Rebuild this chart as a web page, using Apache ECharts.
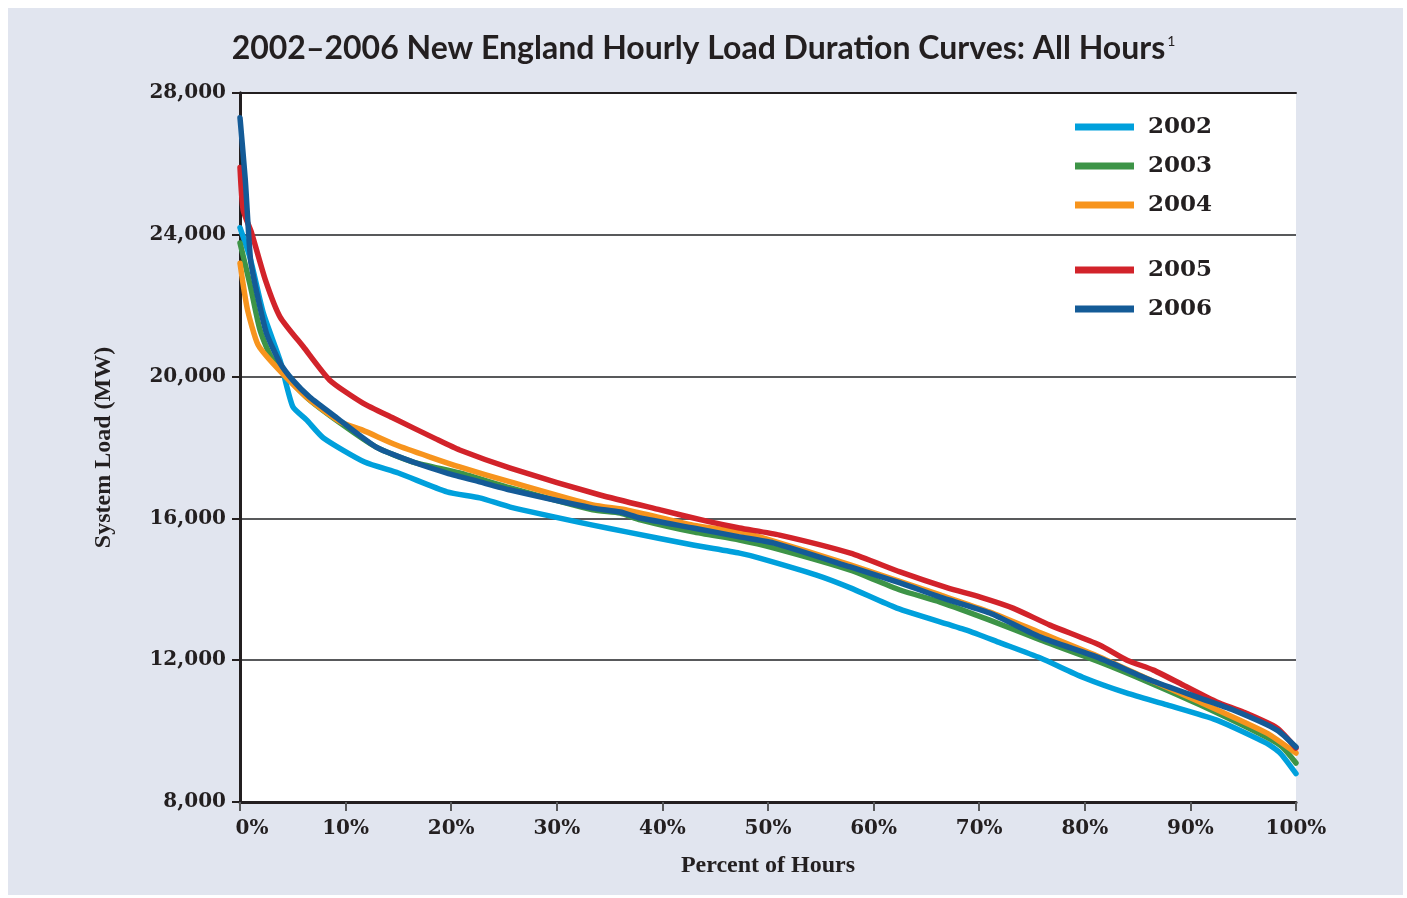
<!DOCTYPE html>
<html>
<head>
<meta charset="utf-8">
<script src="https://cdn.jsdelivr.net/npm/echarts@6/dist/echarts.min.js"></script>
<style>
  html, body { margin: 0; padding: 0; background: #fff; }
  #panel { position: absolute; left: 8px; top: 8px; width: 1395px; height: 887px; background: #e1e5ef; }
  #main { position: absolute; left: 0; top: 0; width: 1407px; height: 898px; }
</style>
</head>
<body>
<div id="panel"></div>
<div id="main"></div>
<script>
  // percent of hours (x) and system load in MW (y)
  var pct2002 = [0, 1, 2.2, 3.8, 5, 6.3, 7.9, 11.8, 15, 19.6, 22.7, 25.6, 33.4, 36.6, 42.9, 47.3, 49.2, 54.6, 57.8, 62.2, 68.8, 72, 75.8, 79.8, 84, 87.8, 92.5, 97.2, 98.5, 100];
  var load2002 = [24200, 23300, 21800, 20450, 19150, 18780, 18270, 17590, 17280, 16750, 16580, 16320, 15810, 15620, 15250, 15020, 14880, 14400, 14040, 13470, 12850, 12490, 12060, 11520, 11070, 10740, 10310, 9660, 9380, 8800];

  var pct2003 = [0, 1, 1.9, 3.1, 6.3, 9.5, 12.9, 16.4, 20.8, 25.6, 33.4, 36, 37.9, 42.9, 47.3, 50.5, 57.8, 62.5, 66.3, 71, 75.8, 81.4, 86.2, 90.9, 97.2, 98.7, 100];
  var load2003 = [23770, 22530, 21310, 20470, 19420, 18690, 18010, 17590, 17280, 16860, 16240, 16150, 15960, 15620, 15390, 15170, 14540, 13980, 13640, 13130, 12570, 11950, 11360, 10740, 9830, 9550, 9100];

  var pct2004 = [0, 0.7, 1.7, 3.1, 6.3, 9.5, 11.6, 14.8, 18, 20.8, 25.6, 33.4, 36.6, 42.9, 47.3, 49.2, 57.8, 66.3, 71, 75.8, 81.4, 86.2, 90.9, 97.2, 100];
  var load2004 = [23200, 21900, 20900, 20380, 19420, 18720, 18490, 18070, 17730, 17450, 17030, 16380, 16240, 15810, 15620, 15480, 14690, 13840, 13360, 12770, 12090, 11440, 10820, 9950, 9380];

  var pct2005 = [0, 0.3, 1.1, 2.4, 3.8, 6, 8.5, 11.6, 14.5, 18.5, 20.8, 25.6, 34.1, 39.8, 44.5, 47.3, 51.1, 57.8, 62.5, 67, 70.1, 73.2, 76.7, 81.4, 84, 86.5, 89.3, 92.5, 95, 98.2, 100];
  var load2005 = [25900, 24700, 24050, 22730, 21680, 20840, 19900, 19260, 18830, 18250, 17930, 17420, 16660, 16240, 15900, 15730, 15530, 15020, 14490, 14040, 13780, 13470, 12990, 12430, 12000, 11720, 11300, 10820, 10540, 10090, 9520];

  var pct2006 = [0, 0.5, 1, 1.6, 2.5, 3.8, 5, 6.6, 9.2, 12.9, 16.4, 19.6, 22.7, 25.6, 33.4, 36, 37.9, 42.9, 47.3, 50.5, 57.8, 62.5, 66.3, 71, 75.8, 81.4, 86.2, 90.9, 94, 98.2, 100];
  var load2006 = [27300, 25550, 23290, 22360, 21230, 20380, 19900, 19420, 18830, 18010, 17590, 17280, 17030, 16800, 16290, 16180, 16010, 15730, 15480, 15310, 14630, 14180, 13780, 13330, 12650, 12060, 11440, 10930, 10600, 10030, 9550];

  var years = ['2002', '2003', '2004', '2005', '2006'];
  var colors = ['#00a0dc', '#3d9447', '#f7941d', '#d2232a', '#145b97'];
  var pcts = [pct2002, pct2003, pct2004, pct2005, pct2006];
  var loads = [load2002, load2003, load2004, load2005, load2006];

  var ink = '#231f20';
  var serif = 'DejaVu Serif';

  function pairs(xs, ys) {
    var out = [];
    for (var i = 0; i < xs.length; i++) out.push([xs[i], ys[i]]);
    return out;
  }

  var series = years.map(function (y, i) {
    return {
      name: y,
      type: 'line',
      data: pairs(pcts[i], loads[i]),
      showSymbol: false,
      smooth: 0.2,
      color: colors[i],
      lineStyle: {width: 5.5, color: colors[i], join: 'round', cap: 'round'},
      emphasis: {disabled: true}
    };
  });

  var legendBase = {
    orient: 'vertical',
    left: 1075,
    padding: 0,
    icon: 'rect',
    itemWidth: 59,
    itemHeight: 7,
    itemGap: 13,
    textStyle: {fontFamily: serif, fontWeight: 'bold', fontSize: 23, color: ink, lineHeight: 26, padding: [0, 0, 0, 9]}
  };

  var myChart = echarts.init(document.getElementById('main'));
  var option = {
    animation: false,
    title: {
      text: '2002–2006 New England Hourly Load Duration Curves: All Hours{s|1}',
      left: 'center',
      top: 26,
      textStyle: {
        fontFamily: 'Lato', fontWeight: 'bold', fontSize: 32, color: ink, lineHeight: 36,
        rich: {
          s: {fontFamily: 'Lato', fontWeight: 'normal', fontSize: 14, color: ink, lineHeight: 15, verticalAlign: 'top', padding: [3, 0, 0, 2]}
        }
      }
    },
    legend: [
      Object.assign({}, legendBase, {top: 114, data: ['2002', '2003', '2004']}),
      Object.assign({}, legendBase, {top: 257, data: ['2005', '2006']})
    ],
    grid: {left: 240, right: 111, top: 93, bottom: 96, show: true, backgroundColor: '#fff', borderWidth: 0},
    xAxis: [
      {
        type: 'value', min: 0, max: 100, interval: 10, position: 'bottom',
        axisLine: {show: true, lineStyle: {color: ink, width: 3}},
        axisTick: {show: true, length: 9, lineStyle: {color: '#58595b', width: 2}},
        axisLabel: {
          margin: 17, fontFamily: serif, fontWeight: 'bold', fontSize: 20, color: ink,
          formatter: function (v) { return v === 0 ? '{z|0%}' : v + '%'; },
          rich: {z: {fontFamily: serif, fontWeight: 'bold', fontSize: 20, color: ink, padding: [0, 0, 0, 24]}}
        },
        splitLine: {show: false},
        name: 'Percent of Hours', nameLocation: 'middle', nameGap: 52,
        nameTextStyle: {fontFamily: 'Liberation Serif', fontWeight: 'bold', fontSize: 24, color: ink}
      },
      {
        type: 'value', min: 0, max: 100, position: 'top',
        axisLine: {show: true, lineStyle: {color: ink, width: 2}},
        axisTick: {show: false}, axisLabel: {show: false}, splitLine: {show: false}
      }
    ],
    yAxis: [
      {
        type: 'value', min: 8000, max: 28000, interval: 4000,
        axisLine: {show: true, lineStyle: {color: ink, width: 3}},
        axisTick: {show: true, length: 8, lineStyle: {color: ink, width: 2}},
        axisLabel: {
          margin: 14, fontFamily: serif, fontWeight: 'bold', fontSize: 20, color: ink,
          formatter: function (v) { return v.toLocaleString('en-US'); }
        },
        splitLine: {show: true, lineStyle: {color: '#58595b', width: 2}},
        name: 'System Load (MW)', nameLocation: 'middle', nameGap: 124,
        nameTextStyle: {fontFamily: 'Liberation Serif', fontWeight: 'bold', fontSize: 24, color: ink}
      },
      {
        type: 'value', min: 8000, max: 28000, position: 'right',
        axisLine: {show: true, lineStyle: {color: ink, width: 3}},
        axisTick: {show: false}, axisLabel: {show: false}, splitLine: {show: false}
      }
    ],
    series: series
  };
  myChart.setOption(option, true);
</script>
</body>
</html>
